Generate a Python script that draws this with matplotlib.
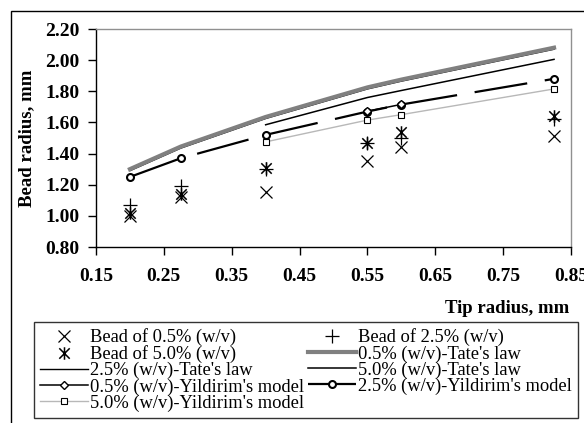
import matplotlib
matplotlib.use('Agg')
from matplotlib import pyplot as plt
from matplotlib.path import Path
from matplotlib.patches import Rectangle
import numpy as np

# data
tip = [0.2, 0.275, 0.4, 0.55, 0.6, 0.825]
tip_50 = [0.4, 0.55, 0.6, 0.825]
tip_yild05 = [0.55, 0.6]

bead_05 = [1.00, 1.12, 1.15, 1.35, 1.44, 1.51]
bead_25 = [1.07, 1.19, 1.30, 1.47, 1.50, 1.62]
bead_50 = [1.02, 1.14, 1.31, 1.47, 1.54, 1.64]

tate_05 = [1.30, 1.445, 1.635, 1.825, 1.875, 2.08]
tate_25 = [1.29, 1.435, 1.625, 1.815, 1.865, 2.07]
tate_50 = [1.585, 1.76, 1.805, 2.005]

yild_05 = [1.672, 1.716]
yild_25 = [1.25, 1.37, 1.52, 1.67, 1.715, 1.88]
yild_50 = [1.475, 1.615, 1.65, 1.815]

plt.rcParams['font.family'] = ['Liberation Serif', 'DejaVu Serif']

# Excel style star: X with a vertical bar
star = Path([(-1, -1), (1, 1), (-1, 1), (1, -1), (0, -1.2), (0, 1.2)],
            [Path.MOVETO, Path.LINETO, Path.MOVETO, Path.LINETO, Path.MOVETO, Path.LINETO])

fig = plt.figure(figsize=(5.84, 4.23), dpi=100)
ax = fig.add_axes([96/584, 1-247/423, (571-96)/584, (247-29)/423])

h1, = ax.plot(tip, bead_05, ls='none', marker='x', ms=9, mew=0.9, color='black', label='Bead of 0.5% (w/v)')
h2, = ax.plot(tip, bead_25, ls='none', marker='+', ms=10, mew=0.9, color='black', label='Bead of 2.5% (w/v)')
h3, = ax.plot(tip, bead_50, ls='none', marker=star, ms=9, mew=1.1, color='black', label='Bead of 5.0% (w/v)')

h5, = ax.plot(tip, tate_25, color='black', lw=1.0, label="2.5% (w/v)-Tate's law", zorder=2)
h4, = ax.plot(tip, tate_05, color='#808080', lw=3.0, label="0.5% (w/v)-Tate's law", zorder=3)
h6, = ax.plot(tip_50, tate_50, color='black', lw=1.1, label="5.0% (w/v)-Tate's law")

h9, = ax.plot(tip_50, yild_50, color='#b8b8b8', lw=1.0, marker='s', ms=5, mfc='white', mec='black', mew=0.8,
              label="5.0% (w/v)-Yildirim's model")
h8, = ax.plot(tip, yild_25, color='black', lw=1.6, dashes=(24, 8), marker='o', ms=5, mfc='white', mec='black', mew=1.5,
              label="2.5% (w/v)-Yildirim's model")
h7, = ax.plot(tip_yild05, yild_05, color='black', lw=1.1, marker='D', ms=4, mfc='white', mec='black', mew=1.0,
              label="0.5% (w/v)-Yildirim's model")

ax.set_xlim(0.15, 0.85)
ax.set_ylim(0.80, 2.20)
ax.set_xticks(np.arange(0.15, 0.851, 0.1))
ax.set_yticks(np.arange(0.8, 2.201, 0.2))
ax.set_xticklabels(['%.2f' % v for v in np.arange(0.15, 0.851, 0.1)])
ax.set_yticklabels(['%.2f' % v for v in np.arange(0.8, 2.201, 0.2)])
ax.tick_params(axis='x', direction='out', length=6, width=1, pad=9, labelsize=14)
ax.tick_params(axis='y', direction='out', length=6, width=1, pad=6, labelsize=14)
for t in ax.get_xticklabels() + ax.get_yticklabels():
    t.set_fontweight('bold')

for s in ['top', 'right']:
    ax.spines[s].set_color('#909090')
    ax.spines[s].set_linewidth(1.0)
for s in ['left', 'bottom']:
    ax.spines[s].set_color('black')
    ax.spines[s].set_linewidth(1.0)

ax.set_ylabel('Bead radius, mm', fontsize=13.5, fontweight='bold', labelpad=7)
fig.text(569/584, 1-308/423, 'Tip radius, mm', fontsize=13.5, fontweight='bold', ha='right', va='center')

# outer chart border
fig.add_artist(Rectangle((10.5/584, -0.05), 1.0, 1.05 - 11/423, transform=fig.transFigure,
                         fill=False, edgecolor='black', lw=1.0, clip_on=False))

# legend, filled row by row like the original
handles = [h1, h3, h5, h7, h9, h2, h4, h6, h8]
leg = fig.legend(handles, [h.get_label() for h in handles], ncol=2,
                 loc='upper left', bbox_to_anchor=(34/584, 1-412/423, (578-34)/584, 90/423),
                 mode='expand', fontsize=13.3, frameon=True, fancybox=False, borderaxespad=0,
                 handlelength=2.6, handletextpad=0.1, labelspacing=-0.06, borderpad=0.35,
                 columnspacing=0.4)
leg.get_frame().set_edgecolor('black')
leg.get_frame().set_linewidth(1.0)

plt.savefig('out.png', dpi=100)
